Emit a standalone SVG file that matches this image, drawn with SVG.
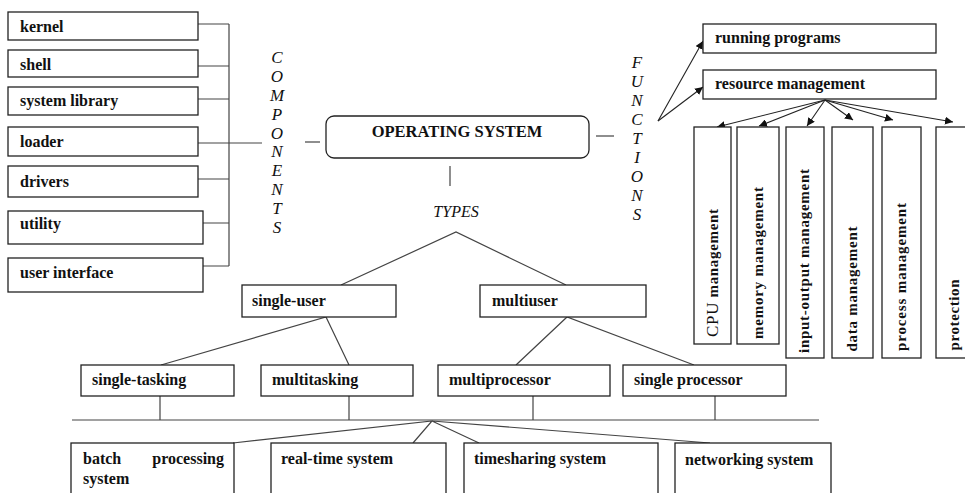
<svg xmlns="http://www.w3.org/2000/svg" width="965" height="493" viewBox="0 0 965 493">
<defs>
<marker id="ah" viewBox="0 0 10 10" refX="10" refY="5" markerWidth="8" markerHeight="8" markerUnits="userSpaceOnUse" orient="auto">
<path d="M0,0 L10,5 L0,10 z" fill="#111"/>
</marker>
<style>
.box{fill:#fff;stroke:#222;stroke-width:1.3}
.ln{fill:none;stroke:#444;stroke-width:1.2}
.ar{fill:none;stroke:#222;stroke-width:1.1;marker-end:url(#ah)}
.t{font-family:"Liberation Serif","Times New Roman",serif;font-weight:bold;font-size:16px;fill:#111}
.it{font-family:"Liberation Serif","Times New Roman",serif;font-style:italic;font-size:17px;fill:#111;text-anchor:middle}
.v{font-family:"Liberation Serif","Times New Roman",serif;font-weight:bold;font-size:15px;fill:#111;text-anchor:middle}
</style>
</defs>
<rect width="965" height="493" fill="#fff"/>

<g id="connectors">
<!-- components bracket -->
<path class="ln" d="M229,24 V266 M198,24 H229 M198,66 H229 M198,99 H229 M198,143 H262 M198,179 H229 M203,223 H229 M203,266 H229"/>
<path class="ln" d="M305,142 H320"/>
<path class="ln" d="M596,136 H614"/>
<path class="ln" d="M450,166 V186"/>
<!-- types tree -->
<path class="ln" d="M341,285 L456,232 L566,285"/>
<path class="ln" d="M161,365 L326,317 L349,365"/>
<path class="ln" d="M516,365 L567,317 L694,365"/>
<path class="ln" d="M160,396 V420 M349,396 V420 M533,396 V420 M715,396 V420"/>
<path class="ln" d="M72,420 H819"/>
<path class="ln" d="M233,443 L432,421 L413,443 M432,421 L479,443 M432,421 L710,443"/>
<!-- functions arrows -->
<path class="ar" d="M658,121 L703,41"/>
<path class="ar" d="M658,121 L703,87"/>
<path class="ar" d="M825,100 L717,127"/>
<path class="ar" d="M825,100 L759,126"/>
<path class="ar" d="M825,100 L807,126"/>
<path class="ar" d="M825,100 L853,120"/>
<path class="ar" d="M825,100 L893,120"/>
<path class="ar" d="M825,100 L953,122"/>
</g>

<g id="kernel"><rect class="box" x="8" y="12" width="190" height="28"/><text class="t" x="20" y="32">kernel</text></g>
<g id="shell"><rect class="box" x="8" y="50" width="190" height="27"/><text class="t" x="20" y="70">shell</text></g>
<g id="system-library"><rect class="box" x="8" y="87" width="190" height="28"/><text class="t" x="20" y="106">system library</text></g>
<g id="loader"><rect class="box" x="8" y="127" width="190" height="29"/><text class="t" x="20" y="147">loader</text></g>
<g id="drivers"><rect class="box" x="8" y="166" width="190" height="31"/><text class="t" x="20" y="187">drivers</text></g>
<g id="utility"><rect class="box" x="8" y="211" width="195" height="33"/><text class="t" x="20" y="229">utility</text></g>
<g id="user-interface"><rect class="box" x="8" y="258" width="195" height="34"/><text class="t" x="20" y="278">user interface</text></g>

<g id="components-label">
<text class="it"><tspan x="277" y="63">C</tspan><tspan x="277" y="82">O</tspan><tspan x="277" y="101">M</tspan><tspan x="277" y="120">P</tspan><tspan x="277" y="139">O</tspan><tspan x="277" y="157">N</tspan><tspan x="277" y="176">E</tspan><tspan x="277" y="195">N</tspan><tspan x="277" y="214">T</tspan><tspan x="277" y="233">S</tspan></text>
</g>

<g id="operating-system"><rect class="box" x="326" y="116" width="263" height="42" rx="8"/><text class="t" x="457" y="137" text-anchor="middle" style="font-size:16.5px">OPERATING SYSTEM</text></g>

<g id="functions-label">
<text class="it"><tspan x="637" y="68">F</tspan><tspan x="637" y="87">U</tspan><tspan x="637" y="106">N</tspan><tspan x="637" y="125">C</tspan><tspan x="637" y="144">T</tspan><tspan x="637" y="163">I</tspan><tspan x="637" y="182">O</tspan><tspan x="637" y="201">N</tspan><tspan x="637" y="220">S</tspan></text>
</g>

<g id="types-label"><text class="it" x="456" y="217" style="font-size:16px">TYPES</text></g>

<g id="running-programs"><rect class="box" x="703" y="24" width="233" height="29"/><text class="t" x="715" y="43">running programs</text></g>
<g id="resource-management"><rect class="box" x="703" y="70" width="233" height="29"/><text class="t" x="715" y="89">resource management</text></g>

<g id="cpu-management"><rect class="box" x="694" y="127" width="37" height="217"/><text class="v" transform="translate(713,273) rotate(-90)" y="5" textLength="128" lengthAdjust="spacing"><tspan style="font-weight:normal;font-size:17px">CPU</tspan> management</text></g>
<g id="memory-management"><rect class="box" x="737" y="127" width="42" height="217"/><text class="v" transform="translate(758,263) rotate(-90)" y="5" textLength="152" lengthAdjust="spacing">memory management</text></g>
<g id="io-management"><rect class="box" x="786" y="127" width="38" height="231"/><text class="v" transform="translate(804,261) rotate(-90)" y="5" textLength="184" lengthAdjust="spacing">input-output management</text></g>
<g id="data-management"><rect class="box" x="832" y="127" width="41" height="231"/><text class="v" transform="translate(852,289) rotate(-90)" y="5" textLength="125" lengthAdjust="spacing">data management</text></g>
<g id="process-management"><rect class="box" x="882" y="127" width="39" height="231"/><text class="v" transform="translate(901,277) rotate(-90)" y="5" textLength="148" lengthAdjust="spacing">process  management</text></g>
<g id="protection"><rect class="box" x="936" y="127" width="40" height="231"/><text class="v" transform="translate(954,315) rotate(-90)" y="5" textLength="71" lengthAdjust="spacing">protection</text></g>

<g id="single-user"><rect class="box" x="242" y="285" width="154" height="32"/><text class="t" x="252" y="306">single-user</text></g>
<g id="multiuser"><rect class="box" x="480" y="285" width="166" height="32"/><text class="t" x="492" y="306">multiuser</text></g>

<g id="single-tasking"><rect class="box" x="81" y="365" width="153" height="31"/><text class="t" x="92" y="385">single-tasking</text></g>
<g id="multitasking"><rect class="box" x="261" y="365" width="152" height="31"/><text class="t" x="272" y="385">multitasking</text></g>
<g id="multiprocessor"><rect class="box" x="438" y="365" width="172" height="31"/><text class="t" x="449" y="385">multiprocessor</text></g>
<g id="single-processor"><rect class="box" x="623" y="365" width="163" height="31"/><text class="t" x="634" y="385">single processor</text></g>

<g id="batch-processing"><rect class="box" x="71" y="443" width="163" height="60"/><text class="t" x="83" y="464">batch</text><text class="t" x="224" y="464" text-anchor="end">processing</text><text class="t" x="83" y="484">system</text></g>
<g id="real-time"><rect class="box" x="271" y="443" width="175" height="60"/><text class="t" x="281" y="464">real-time system</text></g>
<g id="timesharing"><rect class="box" x="464" y="443" width="194" height="60"/><text class="t" x="474" y="464">timesharing system</text></g>
<g id="networking"><rect class="box" x="675" y="443" width="156" height="60"/><text class="t" x="685" y="465">networking system</text></g>
</svg>
